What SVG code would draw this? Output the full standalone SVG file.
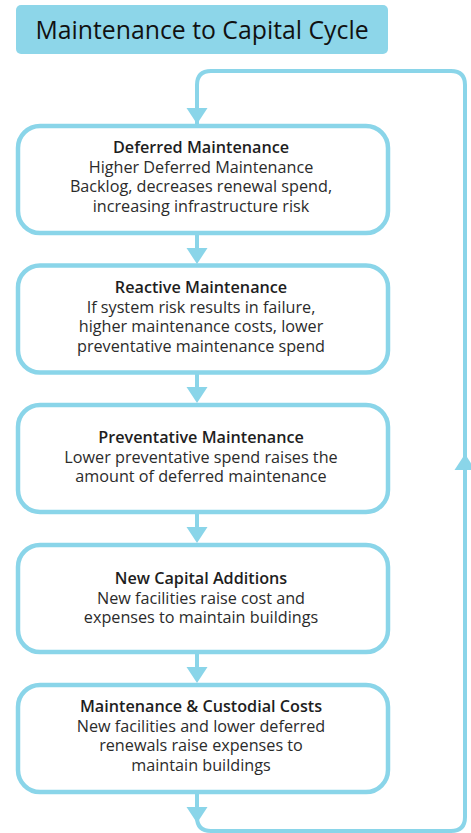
<svg xmlns="http://www.w3.org/2000/svg" xmlns:xlink="http://www.w3.org/1999/xlink" width="471" height="833" viewBox="0 0 471 833">
  <style>
    .box { fill: #ffffff; stroke: #8ad5e9; stroke-width: 4.5; }
    .conn { fill: none; stroke: #8ad5e9; stroke-width: 4; }
    .ah { fill: #8ad5e9; }
    .t { font-family: "Open Sans", "Liberation Sans", sans-serif; font-size: 16.2px; fill: #2b2b2b; text-anchor: middle; }
    .h { font-weight: 600; fill: #1e1e1e; }
    .title { font-family: "Open Sans", "Liberation Sans", sans-serif; font-size: 24.8px; fill: #111111; text-anchor: middle; }
  </style>
  <defs>
    <path id="ah" class="ah" d="M-10.5,-16 L10.5,-16 L0,0 Z"/>
  </defs>
  <rect width="471" height="833" fill="#ffffff"/>

  <g id="title">
    <rect x="16" y="5" width="372" height="49" rx="5" fill="#8dd6e9"/>
    <text class="title" x="202" y="39">Maintenance to Capital Cycle</text>
  </g>

  <g id="connectors">
    <path class="conn" d="M197,124 V85 Q197,71 211,71 H451 Q465,71 465,85 V817 Q465,831 451,831 H211 Q197,831 197,817 V792"/>
    <use xlink:href="#ah" transform="translate(197,124)"/>
    <use xlink:href="#ah" transform="translate(197,823)"/>
    <use xlink:href="#ah" transform="translate(465,454) rotate(180)"/>
    <line class="conn" x1="197" y1="233" x2="197" y2="252"/>
    <use xlink:href="#ah" transform="translate(197,264)"/>
    <line class="conn" x1="197" y1="372" x2="197" y2="391"/>
    <use xlink:href="#ah" transform="translate(197,403)"/>
    <line class="conn" x1="197" y1="511" x2="197" y2="531"/>
    <use xlink:href="#ah" transform="translate(197,543)"/>
    <line class="conn" x1="197" y1="651" x2="197" y2="671"/>
    <use xlink:href="#ah" transform="translate(197,683)"/>
  </g>

  <g id="deferred">
    <rect class="box" x="18" y="126" width="370" height="107" rx="22"/>
    <text class="t h" x="201" y="153">Deferred Maintenance</text>
    <text class="t" x="201" y="172.7">Higher Deferred Maintenance</text>
    <text class="t" x="201" y="192.4">Backlog, decreases renewal spend,</text>
    <text class="t" x="201" y="212.1">increasing infrastructure risk</text>
  </g>

  <g id="reactive">
    <rect class="box" x="18" y="265.5" width="370" height="107" rx="22"/>
    <text class="t h" x="201" y="293">Reactive Maintenance</text>
    <text class="t" x="201" y="312.7">If system risk results in failure,</text>
    <text class="t" x="201" y="332.4">higher maintenance costs, lower</text>
    <text class="t" x="201" y="352.1">preventative maintenance spend</text>
  </g>

  <g id="preventative">
    <rect class="box" x="18" y="405" width="370" height="107" rx="22"/>
    <text class="t h" x="201" y="443">Preventative Maintenance</text>
    <text class="t" x="201" y="462.7">Lower preventative spend raises the</text>
    <text class="t" x="201" y="482.4">amount of deferred maintenance</text>
  </g>

  <g id="capital">
    <rect class="box" x="18" y="545" width="370" height="107" rx="22"/>
    <text class="t h" x="201" y="584">New Capital Additions</text>
    <text class="t" x="201" y="603.7">New facilities raise cost and</text>
    <text class="t" x="201" y="623.4">expenses to maintain buildings</text>
  </g>

  <g id="custodial">
    <rect class="box" x="18" y="685" width="370" height="107" rx="22"/>
    <text class="t h" x="201" y="712">Maintenance &amp; Custodial Costs</text>
    <text class="t" x="201" y="731.7">New facilities and lower deferred</text>
    <text class="t" x="201" y="751.4">renewals raise expenses to</text>
    <text class="t" x="201" y="771.1">maintain buildings</text>
  </g>
</svg>
